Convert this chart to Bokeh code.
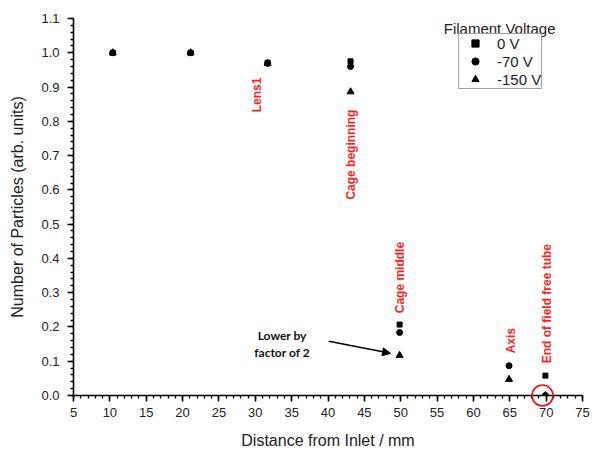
import math
from bokeh.plotting import figure
from bokeh.models import (Legend, LegendItem, Label, Arrow, NormalHead,
                          SingleIntervalTicker, PrintfTickFormatter, ColumnDataSource)
from bokeh.core.properties import value
from bokeh.embed import file_html
from bokeh.resources import INLINE

nan = float("nan")

# ---- data ----
distance = [10.4, 21.1, 31.7, 43.1, 49.85, 64.9, 69.9]
v_0 = [1.0, 1.0, 0.971, 0.975, 0.207, nan, 0.058]
v_70 = [1.0, 1.0, 0.969, 0.960, 0.184, 0.087, 0.0]
v_150 = [1.0, 1.0, 0.969, 0.886, 0.117, 0.047, 0.0]
series_names = ["0 V", "-70 V", "-150 V"]

note_text = ["Lens1", "Cage beginning", "Cage middle", "Axis", "End of field free tube"]
note_x = [30.3, 43.1, 49.85, 65.2, 70.1]
note_y = [0.877, 0.703, 0.344, 0.160, 0.268]

FONT = "Liberation Sans"

p = figure(width=590, height=452, x_range=(5, 75), y_range=(0, 1.1),
           output_backend="svg", toolbar_location=None,
           min_border_left=73, min_border_right=8, min_border_top=18, min_border_bottom=57)
p.outline_line_color = None
p.xgrid.visible = False
p.ygrid.visible = False
p.background_fill_color = "white"

p.xaxis.ticker = SingleIntervalTicker(interval=5, num_minor_ticks=5)
p.yaxis.ticker = SingleIntervalTicker(interval=0.1, num_minor_ticks=5)
p.yaxis.formatter = PrintfTickFormatter(format="%.1f")

for ax in (p.xaxis[0], p.yaxis[0]):
    ax.axis_line_width = 1.6
    ax.axis_line_color = "black"
    ax.major_tick_line_width = 1.6
    ax.minor_tick_line_width = 1.3
    ax.major_tick_line_color = "black"
    ax.minor_tick_line_color = "black"
    ax.major_tick_out = 6
    ax.major_tick_in = 0
    ax.minor_tick_out = 3
    ax.minor_tick_in = 0
    ax.major_label_text_font = FONT
    ax.major_label_text_font_size = "13px"
    ax.major_label_text_color = "#222222"
    ax.axis_label_text_font = FONT
    ax.axis_label_text_font_size = "16px"
    ax.axis_label_text_font_style = "normal"
    ax.axis_label_text_color = "#222222"

p.xaxis.axis_label = "Distance from Inlet / mm"
p.yaxis.axis_label = "Number of Particles (arb. units)"
p.yaxis.major_label_standoff = 8
p.xaxis.major_label_standoff = 6
p.xaxis.axis_label_standoff = 12
p.yaxis.axis_label_standoff = 12

src = ColumnDataSource(dict(x=distance, v0=v_0, v70=v_70, v150=v_150))
r0 = p.scatter("x", "v0", source=src, marker="square", size=5, color="black")
r70 = p.scatter("x", "v70", source=src, marker="circle", size=6, color="black")
r150 = p.scatter("x", "v150", source=src, marker="triangle", size=7, color="black")

legend = Legend(items=[LegendItem(label=series_names[0], renderers=[r0]),
                       LegendItem(label=series_names[1], renderers=[r70]),
                       LegendItem(label=series_names[2], renderers=[r150])],
                location=(385, 306), padding=0, spacing=0, margin=0,
                label_height=18, glyph_height=18, glyph_width=32, label_standoff=6,
                border_line_color="#444444", border_line_width=1.5,
                label_text_font=FONT, label_text_font_size="15px",
                label_text_line_height=1.0,
                label_text_color="#222222", background_fill_alpha=1.0)
p.add_layout(legend)

p.add_layout(Label(x=63.6, y=1.07, text="Filament Voltage", text_font=FONT,
                   text_font_size="15px", text_color="#222222",
                   text_align="center", text_baseline="middle"))

p.text(x=note_x, y=note_y, text=note_text, angle=math.pi / 2,
       text_font=value(FONT), text_font_style="bold", text_font_size="12px",
       text_color="#ff1f1f", text_align="center", text_baseline="middle")

p.text(x=[33.7, 33.7], y=[0.175, 0.125], text=["Lower by", "factor of 2"],
       text_font=value("Lato"), text_font_style="bold", text_font_size="12px",
       text_color="#111111", text_align="center", text_baseline="middle")

p.add_layout(Arrow(end=NormalHead(size=8, fill_color="black", line_color="black"),
                   x_start=40.1, y_start=0.158, x_end=48.6, y_end=0.123,
                   line_width=1.5, line_color="black"))

p.scatter([69.5], [0.0], marker="circle", size=21, fill_color=None,
          line_color="#ee1111", line_width=1.6, level="overlay")

open("out.html", "w").write(file_html(p, INLINE))
